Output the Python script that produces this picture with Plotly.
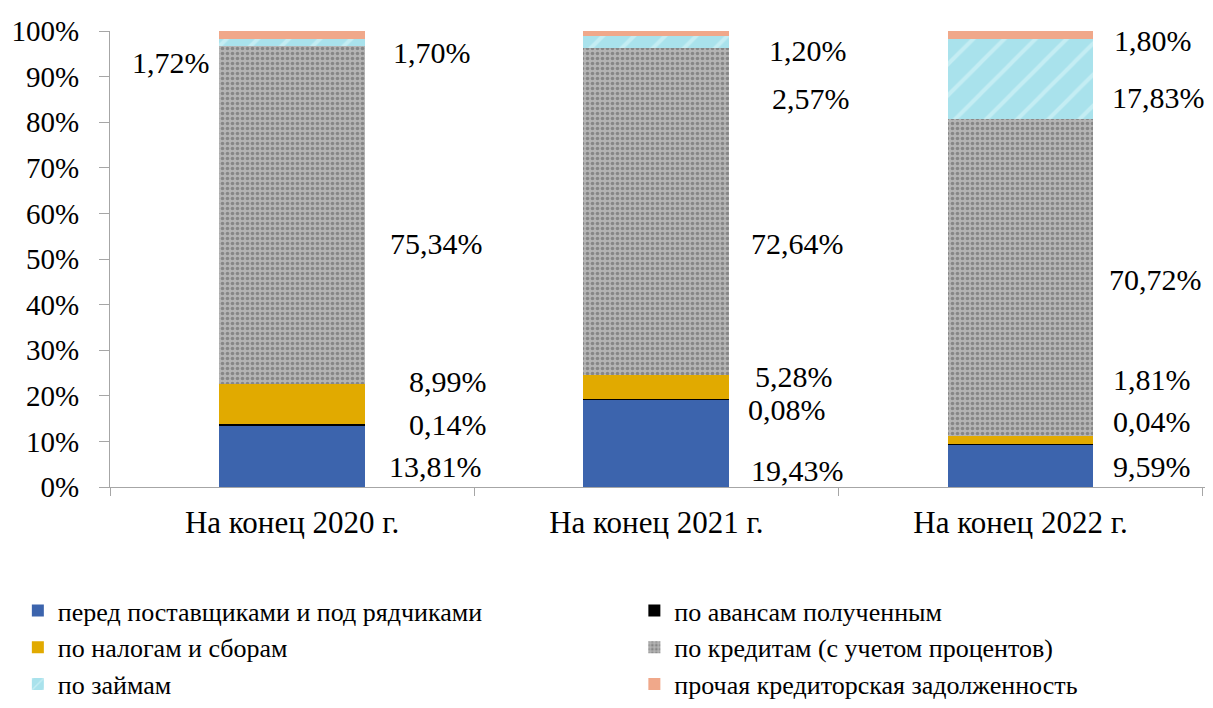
import plotly.graph_objects as go

categories = ["На конец 2020 г.", "На конец 2021 г.", "На конец 2022 г."]
series_names = [
    "перед поставщиками и под рядчиками",
    "по авансам полученным",
    "по налогам и сборам",
    "по кредитам (с учетом процентов)",
    "по займам",
    "прочая кредиторская задолженность",
]
suppliers = [13.81, 19.43, 9.59]
advances = [0.14, 0.08, 0.04]
taxes = [8.99, 5.28, 1.81]
credits = [75.34, 72.64, 70.72]
loans = [1.72, 2.57, 17.83]
other = [1.70, 1.20, 1.80]
series_values = [suppliers, advances, taxes, credits, loans, other]
tick_values = list(range(0, 101, 10))
tick_labels = [f"{v}%" for v in tick_values]

# styles
FONT = "Liberation Serif"
FS_Y, FS_X, FS_LBL, FS_LEG = 29, 31, 30, 26
colors = ["#3c64ad", "#000000", "#e1aa00", "#ababab", "#a9e2ec", "#f0a88a"]
patterns = [
    None, None, None,
    dict(shape=".", bgcolor="#b4b4b4", fgcolor="#575757", size=5, solidity=0.4),
    dict(shape="/", bgcolor="#a9e2ec", fgcolor="#dff7fa", size=22, solidity=0.18),
    None,
]
legend_of = ["legend", "legend2", "legend", "legend2", "legend", "legend2"]

# label placement (percent on axis, pixel shift from category centre)
label_y = [
    [4.4, 13.8, 23.2, 53.5, 93.2, 95.2],
    [3.7, 16.9, 24.3, 53.5, 85.1, 95.8],
    [4.4, 14.3, 23.5, 45.6, 85.5, 98.0],
]
label_dx = [
    [143, 156, 156, 144, -121, 140],
    [141, 131, 138, 141, 155, 152],
    [131, 131, 131, 135, 138, 132],
]

fig = go.Figure()
for i, (name, vals) in enumerate(zip(series_names, series_values)):
    marker = dict(color=colors[i], line=dict(width=0))
    if patterns[i]:
        marker["pattern"] = patterns[i]
    fig.add_trace(go.Bar(name=name, x=categories, y=vals, marker=marker, width=0.4,
                         legend=legend_of[i], legendgroup=name))

annotations = []
for ci, cat in enumerate(categories):
    for si, vals in enumerate(series_values):
        txt = f"{vals[ci]:.2f}".replace(".", ",") + "%"
        annotations.append(dict(
            x=cat, y=label_y[ci][si], xref="x", yref="y", text=txt,
            showarrow=False, xshift=label_dx[ci][si],
            font=dict(family=FONT, size=FS_LBL, color="#000000"),
        ))

legend_common = dict(
    orientation="v", xanchor="left", yanchor="top", y=-0.2195,
    font=dict(family=FONT, size=FS_LEG, color="#000000"), traceorder="normal",
    tracegroupgap=15, itemwidth=30, bgcolor="rgba(0,0,0,0)",
)

fig.update_layout(
    barmode="stack",
    barnorm="percent",
    width=1205, height=700,
    paper_bgcolor="white", plot_bgcolor="white",
    margin=dict(l=102, r=6, t=23, b=221, autoexpand=False),
    font=dict(family=FONT, size=FS_Y, color="#000000"),
    annotations=annotations,
    legend=dict(x=-0.084, **legend_common),
    legend2=dict(x=0.478, **legend_common),
    xaxis=dict(
        showline=True, linecolor="#a6a6a6", linewidth=1,
        ticks="outside", tickson="boundaries", ticklen=8, tickcolor="#a6a6a6",
        showgrid=False, tickfont=dict(family=FONT, size=FS_X, color="#000000"),
        ticklabelstandoff=8,
    ),
    yaxis=dict(
        range=[0, 100], tickmode="array", tickvals=tick_values, ticktext=tick_labels,
        showline=True, linecolor="#a6a6a6", linewidth=1,
        ticks="outside", ticklen=10, tickcolor="#a6a6a6",
        showgrid=False, zeroline=False,
        tickfont=dict(family=FONT, size=FS_Y, color="#000000"),
        ticklabelstandoff=14,
    ),
)

fig.write_html("out.html")
